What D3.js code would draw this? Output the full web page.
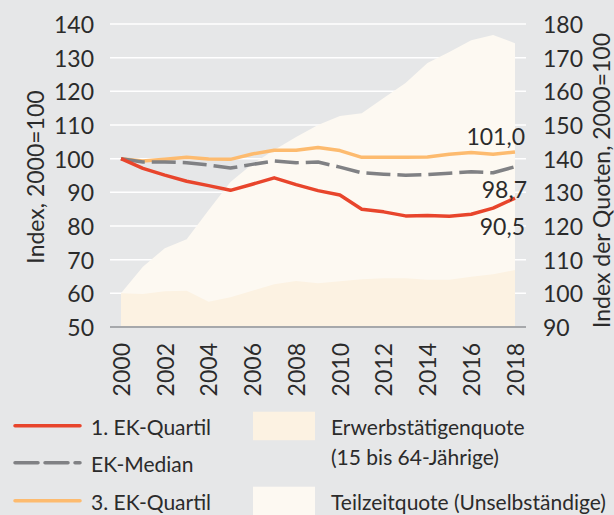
<!DOCTYPE html>
<html>
<head>
<meta charset="utf-8">
<script src="https://cdn.jsdelivr.net/npm/d3@7"></script>
<style>
  body { margin: 0; background: #e6e7e8; }
  svg { display: block; font-family: Lato, "Open Sans", sans-serif; }
</style>
</head>
<body>
<svg id="chart" width="614" height="515"></svg>
<script>
// Data
const years = [2000, 2001, 2002, 2003, 2004, 2005, 2006, 2007, 2008, 2009,
               2010, 2011, 2012, 2013, 2014, 2015, 2016, 2017, 2018];

const quartil1 = [100, 97.1, 95.1, 93.3, 92.0, 90.6, 92.4, 94.3, 92.3, 90.5,
                  89.2, 85.0, 84.2, 83.0, 83.1, 82.9, 83.5, 85.3, 88.3];
const median   = [100, 99.0, 99.0, 98.8, 98.1, 97.2, 98.3, 99.3, 98.8, 99.0,
                  97.5, 95.8, 95.4, 95.1, 95.3, 95.7, 96.1, 95.8, 97.6];
const quartil3 = [100, 99.3, 99.8, 100.4, 99.9, 99.8, 101.4, 102.5, 102.5, 103.3,
                  102.4, 100.4, 100.4, 100.4, 100.5, 101.3, 101.8, 101.3, 102.0];

// right axis (Index der Quoten)
const erwerbsQuote  = [100, 99.8, 100.6, 100.8, 97.5, 98.8, 100.8, 102.7, 103.7, 103.0,
                       103.6, 104.2, 104.5, 104.5, 104.0, 104.0, 104.9, 105.7, 106.9];
const teilzeitQuote = [100, 107.9, 113.4, 116.1, 124.7, 133.1, 138.4, 142.6, 146.4, 150.0,
                       152.7, 153.5, 158.0, 162.5, 168.4, 171.7, 175.2, 176.7, 174.3];

const leftTicks  = [50, 60, 70, 80, 90, 100, 110, 120, 130, 140];
const rightTicks = [90, 100, 110, 120, 130, 140, 150, 160, 170, 180];
const xTicks     = [2000, 2002, 2004, 2006, 2008, 2010, 2012, 2014, 2016, 2018];
const endLabels  = ["101,0", "98,7", "90,5"];

const COLORS = {
  bg: "#e6e7e8",
  grid: "#ffffff",
  base: "#a6a8ab",
  text: "#2b2b2b",
  q1: "#e8452c",
  med: "#808184",
  q3: "#fdbb6f",
  erwerbs: "#fcf2e2",
  teilzeit: "#fdf9f2"
};

const FONT = 23;
const LEGEND_FONT = 21;

const svg = d3.select("#chart");

svg.append("rect")
  .attr("width", 614).attr("height", 515)
  .attr("fill", COLORS.bg);

// scales
const xScale = d3.scaleLinear().domain([2000, 2018]).range([121, 515]);
const yLeft  = d3.scaleLinear().domain([50, 140]).range([327, 24]);
const yRight = d3.scaleLinear().domain([90, 180]).range([327, 24]);

const gridX1 = 110, gridX2 = 526;

// gridlines
svg.append("g")
  .selectAll("line")
  .data(leftTicks.slice(1))
  .join("line")
    .attr("x1", gridX1).attr("x2", gridX2)
    .attr("y1", d => yLeft(d)).attr("y2", d => yLeft(d))
    .attr("stroke", COLORS.grid)
    .attr("stroke-width", 1.5);

// areas
const area = d3.area()
  .x((d, i) => xScale(years[i]))
  .y0(yRight(90))
  .y1(d => yRight(d));

svg.append("path")
  .datum(teilzeitQuote)
  .attr("d", area)
  .attr("fill", COLORS.teilzeit);

svg.append("path")
  .datum(erwerbsQuote)
  .attr("d", area)
  .attr("fill", COLORS.erwerbs);

// baseline
svg.append("line")
  .attr("x1", gridX1).attr("x2", gridX2)
  .attr("y1", yLeft(50)).attr("y2", yLeft(50))
  .attr("stroke", COLORS.base)
  .attr("stroke-width", 2);

// lines
const line = d3.line()
  .x((d, i) => xScale(years[i]))
  .y(d => yLeft(d));

const series = [
  { values: quartil3, color: COLORS.q3, dash: null },
  { values: median, color: COLORS.med, dash: "24,7" },
  { values: quartil1, color: COLORS.q1, dash: null }
];

svg.append("g")
  .selectAll("path")
  .data(series)
  .join("path")
    .attr("d", d => line(d.values))
    .attr("fill", "none")
    .attr("stroke", d => d.color)
    .attr("stroke-width", 3.5)
    .attr("stroke-linejoin", "round")
    .attr("stroke-dasharray", d => d.dash);

// axes
let leftAxis = svg.append("g")
  .attr("transform", "translate(" + gridX1 + ",0)")
  .call(d3.axisLeft(yLeft).tickValues(leftTicks).tickSize(0).tickPadding(16));

let rightAxis = svg.append("g")
  .attr("transform", "translate(" + gridX2 + ",0)")
  .call(d3.axisRight(yRight).tickValues(rightTicks).tickSize(0).tickPadding(17));

let bottomAxis = svg.append("g")
  .attr("transform", "translate(0," + yLeft(50) + ")")
  .call(d3.axisBottom(xScale).tickValues(xTicks).tickFormat(d3.format("d")).tickSize(0));

[leftAxis, rightAxis, bottomAxis].forEach(function (ax) {
  ax.select(".domain").remove();
  ax.attr("font-family", null).attr("font-size", null);
  ax.selectAll("text")
    .attr("fill", COLORS.text)
    .style("font-size", FONT + "px")
    .attr("dy", "0.37em");
});

bottomAxis.selectAll("text")
  .attr("transform", "rotate(-90)")
  .attr("text-anchor", "end")
  .attr("x", -16)
  .attr("y", 0)
  .attr("dy", "0.36em");

// axis titles
svg.append("text")
  .attr("transform", "translate(44,177) rotate(-90)")
  .attr("text-anchor", "middle")
  .attr("fill", COLORS.text)
  .style("font-size", FONT + "px")
  .text("Index, 2000=100");

svg.append("text")
  .attr("transform", "translate(610,33) rotate(-90)")
  .attr("text-anchor", "end")
  .attr("fill", COLORS.text)
  .style("font-size", FONT + "px")
  .text("Index der Quoten, 2000=100");

// end value labels
const lastX = xScale(2018);
const lastIdx = years.length - 1;
const labelY = [
  yLeft(quartil3[lastIdx]) - 7,
  yLeft(quartil1[lastIdx]),
  yLeft(quartil1[lastIdx]) + 37
];
svg.append("g")
  .selectAll("text")
  .data(endLabels)
  .join("text")
    .attr("x", (d, i) => lastX + (i == 1 ? 12 : 10))
    .attr("y", (d, i) => labelY[i])
    .attr("text-anchor", "end")
    .attr("fill", COLORS.text)
    .style("font-size", FONT + "px")
    .text(d => d);

// legend
const legendLines = [
  { label: "1. EK-Quartil", color: COLORS.q1, dash: null, y: 425.7 },
  { label: "EK-Median", color: COLORS.med, dash: "23,7", y: 462.7 },
  { label: "3. EK-Quartil", color: COLORS.q3, dash: null, y: 500.7 }
];

let legend = svg.append("g");

legend.selectAll("line")
  .data(legendLines)
  .join("line")
    .attr("x1", 15).attr("x2", 80)
    .attr("y1", d => d.y).attr("y2", d => d.y)
    .attr("stroke", d => d.color)
    .attr("stroke-width", 3.5)
    .attr("stroke-linecap", "round")
    .attr("stroke-dasharray", d => d.dash);

legend.selectAll("text.ll")
  .data(legendLines)
  .join("text")
    .attr("class", "ll")
    .attr("x", 91)
    .attr("y", d => d.y + 9.5)
    .attr("fill", COLORS.text)
    .style("font-size", LEGEND_FONT + "px")
    .text(d => d.label);

const legendAreas = [
  { lines: ["Erwerbstätigenquote", "(15 bis 64-Jährige)"], color: COLORS.erwerbs, y: 411.7 },
  { lines: ["Teilzeitquote (Unselbständige)"], color: COLORS.teilzeit, y: 486.7 }
];

legendAreas.forEach(function (d) {
  legend.append("rect")
    .attr("x", 253).attr("y", d.y)
    .attr("width", 62).attr("height", 28.5)
    .attr("fill", d.color);
  d.lines.forEach(function (t, i) {
    legend.append("text")
      .attr("x", 331)
      .attr("y", d.y + 23.5 + i * 30)
      .attr("fill", COLORS.text)
      .style("font-size", LEGEND_FONT + "px")
      .text(t);
  });
});
</script>
</body>
</html>
